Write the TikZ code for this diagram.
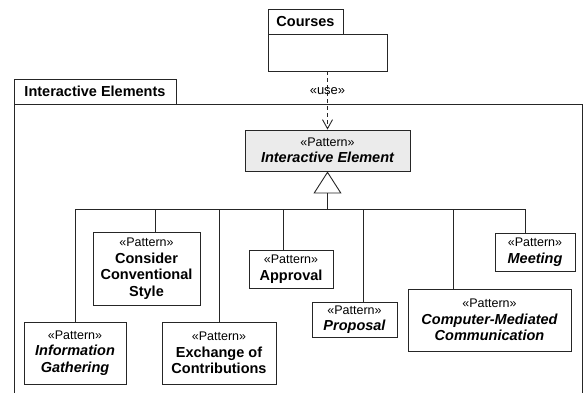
\documentclass[tikz,border=0pt]{standalone}
\usepackage{fontspec}
\setmainfont{Liberation Sans}
\usetikzlibrary{arrows.meta}
\newcommand\pst[1]{{\fontsize{12.5}{14}\selectfont\mdseries\upshape «#1»}}
\begin{document}
\begin{tikzpicture}[x=1pt,y=-1pt,line width=0.9pt,
  box/.style={draw=black!85, fill=white, inner sep=0pt, align=center,
    font=\fontsize{14.5}{16.5}\selectfont\bfseries},
  tabbox/.style={box},
  conn/.style={draw=black!85, line width=0.9pt}]
\useasboundingbox (0,0) rectangle (584,393);
% Courses package
\node[tabbox, minimum width=75pt, minimum height=25pt] (ctab) at (305.5,21.5) {Courses};
\node[box, minimum width=119pt, minimum height=37pt] (cbody) at (327.5,52.5) {};
% Interactive Elements package
\node[tabbox, minimum width=162pt, minimum height=25pt] (ptab) at (95,91.5) {Interactive Elements};
\coordinate (pbl) at (14,394);
\coordinate (ptl) at (14,104);
\coordinate (ptr) at (582,104);
\coordinate (pbr) at (582,394);
\draw[conn] (pbl) -- (ptl) -- (ptr) -- (pbr);
% Interactive Element
\node[box, fill=black!8, minimum width=165pt, minimum height=41pt] (ie) at (327.5,150.5)
  {\pst{Pattern}\\\itshape Interactive Element};
% children
\node[box, minimum width=107pt, minimum height=73pt] (cons) at (146.5,268.5)
  {\pst{Pattern}\\Consider\\Conventional\\Style};
\node[box, minimum width=102pt, minimum height=62pt] (info) at (75,353)
  {\pst{Pattern}\\\itshape Information\\\itshape Gathering};
\node[box, minimum width=114pt, minimum height=62pt] (exch) at (219,353)
  {\pst{Pattern}\\Exchange of\\Contributions};
\node[box, minimum width=84pt, minimum height=38pt] (appr) at (291,269)
  {\pst{Pattern}\\Approval};
\node[box, minimum width=85pt, minimum height=35pt] (prop) at (354.5,319.5)
  {\pst{Pattern}\\\itshape Proposal};
\node[box, minimum width=163pt, minimum height=62pt] (cmc) at (489.5,320)
  {\pst{Pattern}\\\itshape Computer-Mediated\\\itshape Communication};
\node[box, minimum width=80pt, minimum height=38pt] (meet) at (535,252)
  {\pst{Pattern}\\\itshape Meeting};
% generalization tree
\coordinate (bl) at (75,209);
\coordinate (br) at (525,209);
\coordinate (j0) at (327.5,209);
\coordinate (jcons) at (155,209);
\coordinate (jexch) at (219,209);
\coordinate (jappr) at (283,209);
\coordinate (jprop) at (363,209);
\coordinate (jcmc) at (453,209);
\draw[conn] (bl) -- (br);
\draw[conn] (bl) -- (info.north);
\draw[conn] (jcons) -- (jcons |- cons.north);
\draw[conn] (jexch) -- (exch.north);
\draw[conn] (jappr) -- (jappr |- appr.north);
\draw[conn] (jprop) -- (jprop |- prop.north);
\draw[conn] (jcmc) -- (jcmc |- cmc.north);
\draw[conn] (br) -- (br |- meet.north);
\draw[conn, -{Triangle[open, length=22pt, width=28pt, line width=0.9pt]}] (j0) -- (ie.south);
% use dependency
\draw[conn, dash pattern=on 4pt off 3pt, -{Straight Barb[length=9pt, width=10pt, line width=0.9pt]}]
  (cbody.south) -- (ie.north)
  node[pos=0.34, font=\fontsize{13}{15}\selectfont] (use) {«use»};
\end{tikzpicture}
\end{document}
